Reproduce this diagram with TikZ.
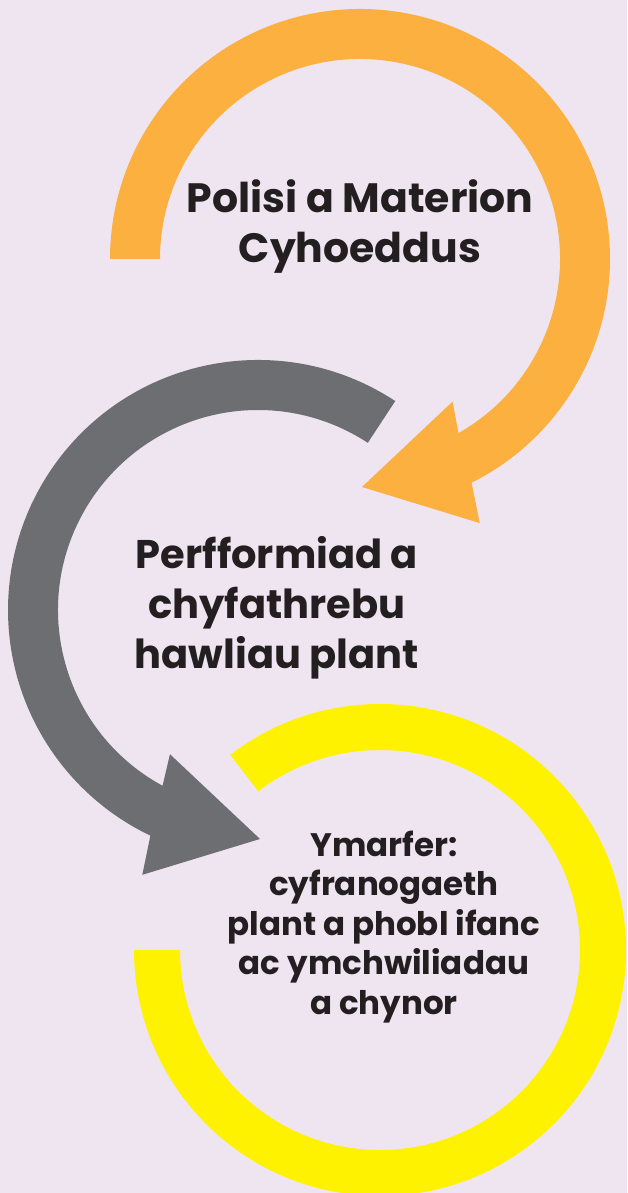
\documentclass[tikz,border=0pt]{standalone}
\usepackage{fontspec}
\setmainfont{Poppins}
\definecolor{bgcol}{RGB}{238,229,241}
\definecolor{orng}{RGB}{251,176,64}
\definecolor{grey}{RGB}{109,110,113}
\definecolor{yllw}{RGB}{255,242,0}
\definecolor{txtcol}{RGB}{35,31,32}

\begin{document}
\begin{tikzpicture}[x=1pt,y=1pt,
  lbl/.style={align=center, text=txtcol, inner sep=0pt}]
\useasboundingbox (0,0) rectangle (627,1193);
\fill[bgcol] (0,0) rectangle (627,1193);
\clip (0,0) rectangle (627,1193);
\coordinate (oc) at (360,934);
\coordinate (gc) at (258,583);
\coordinate (yc) at (380,243);
%----orange arrow------------------------------
\fill[orng, shift={(oc)}] (180:250) arc[start angle=180, end angle=-63.5, radius=250]
    -- (-65.6:290) -- (-89.5:228) -- (-57:170) -- (-60.5:200)
    arc[start angle=-60.5, end angle=180, radius=200] -- cycle;
%----grey arrow--------------------------------
\fill[grey, shift={(gc)}] (56.7:250) arc[start angle=56.7, end angle=244.5, radius=250]
    -- (246.4:289) -- (270.5:229) -- (238.6:169) -- (241.5:200)
    arc[start angle=241.5, end angle=56.7, radius=200] -- cycle;
%----yellow ring-------------------------------
\fill[yllw, shift={(yc)}] (127.5:246) arc[start angle=127.5, end angle=-180, radius=246]
    -- (-180:200) arc[start angle=-180, end angle=127.5, radius=200] -- cycle;
%----text--------------------------------------
\node[lbl, font=\fontsize{41}{50}\selectfont\bfseries] (polisi) at (360,966)
    {Polisi a Materion\\Cyhoeddus};
\node[lbl, font=\fontsize{40}{50}\selectfont\bfseries] (perff) at (277,585)
    {Perfformiad a\\chyfathrebu\\hawliau plant};
\node[lbl, font=\fontsize{32.5}{39.5}\selectfont\bfseries] (ymarfer) at (384,266)
    {Ymarfer:\\cyfranogaeth\\plant a phobl ifanc\\ac ymchwiliadau\\a chynor};
\end{tikzpicture}
\end{document}
